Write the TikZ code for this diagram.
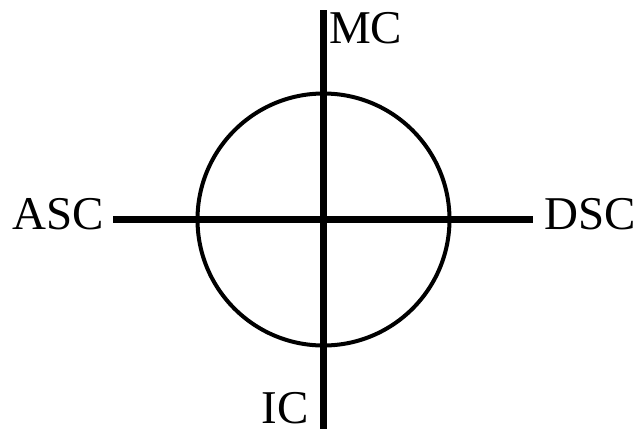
\documentclass[tikz,border=0pt]{standalone}
\usepackage{fontspec}
\setmainfont{Liberation Serif}
\begin{document}
\begin{tikzpicture}[x=1pt,y=-1pt,
  axis/.style={line width=7pt},
  ring/.style={circle,draw,line width=4pt,minimum size=252pt,inner sep=0pt},
  lbl/.style={inner sep=0pt,font=\fontsize{47}{47}\selectfont}]
\useasboundingbox (0,0) rectangle (636,429);
\node[ring] (c) at (323.5,219.5) {};
\coordinate (top) at (323.5,10);
\coordinate (bot) at (323.5,429);
\coordinate (left) at (113,219.5);
\coordinate (right) at (533,219.5);
\draw[axis] (top) -- (bot);
\draw[axis] (left) -- (right);
\node[lbl,anchor=base west] (mc) at (329,43) {MC};
\node[lbl,anchor=base east] (asc) at (104,229) {ASC};
\node[lbl,anchor=base west] (dsc) at (544,229) {DSC};
\node[lbl,anchor=base east] (ic) at (309,423) {IC};
\end{tikzpicture}
\end{document}
